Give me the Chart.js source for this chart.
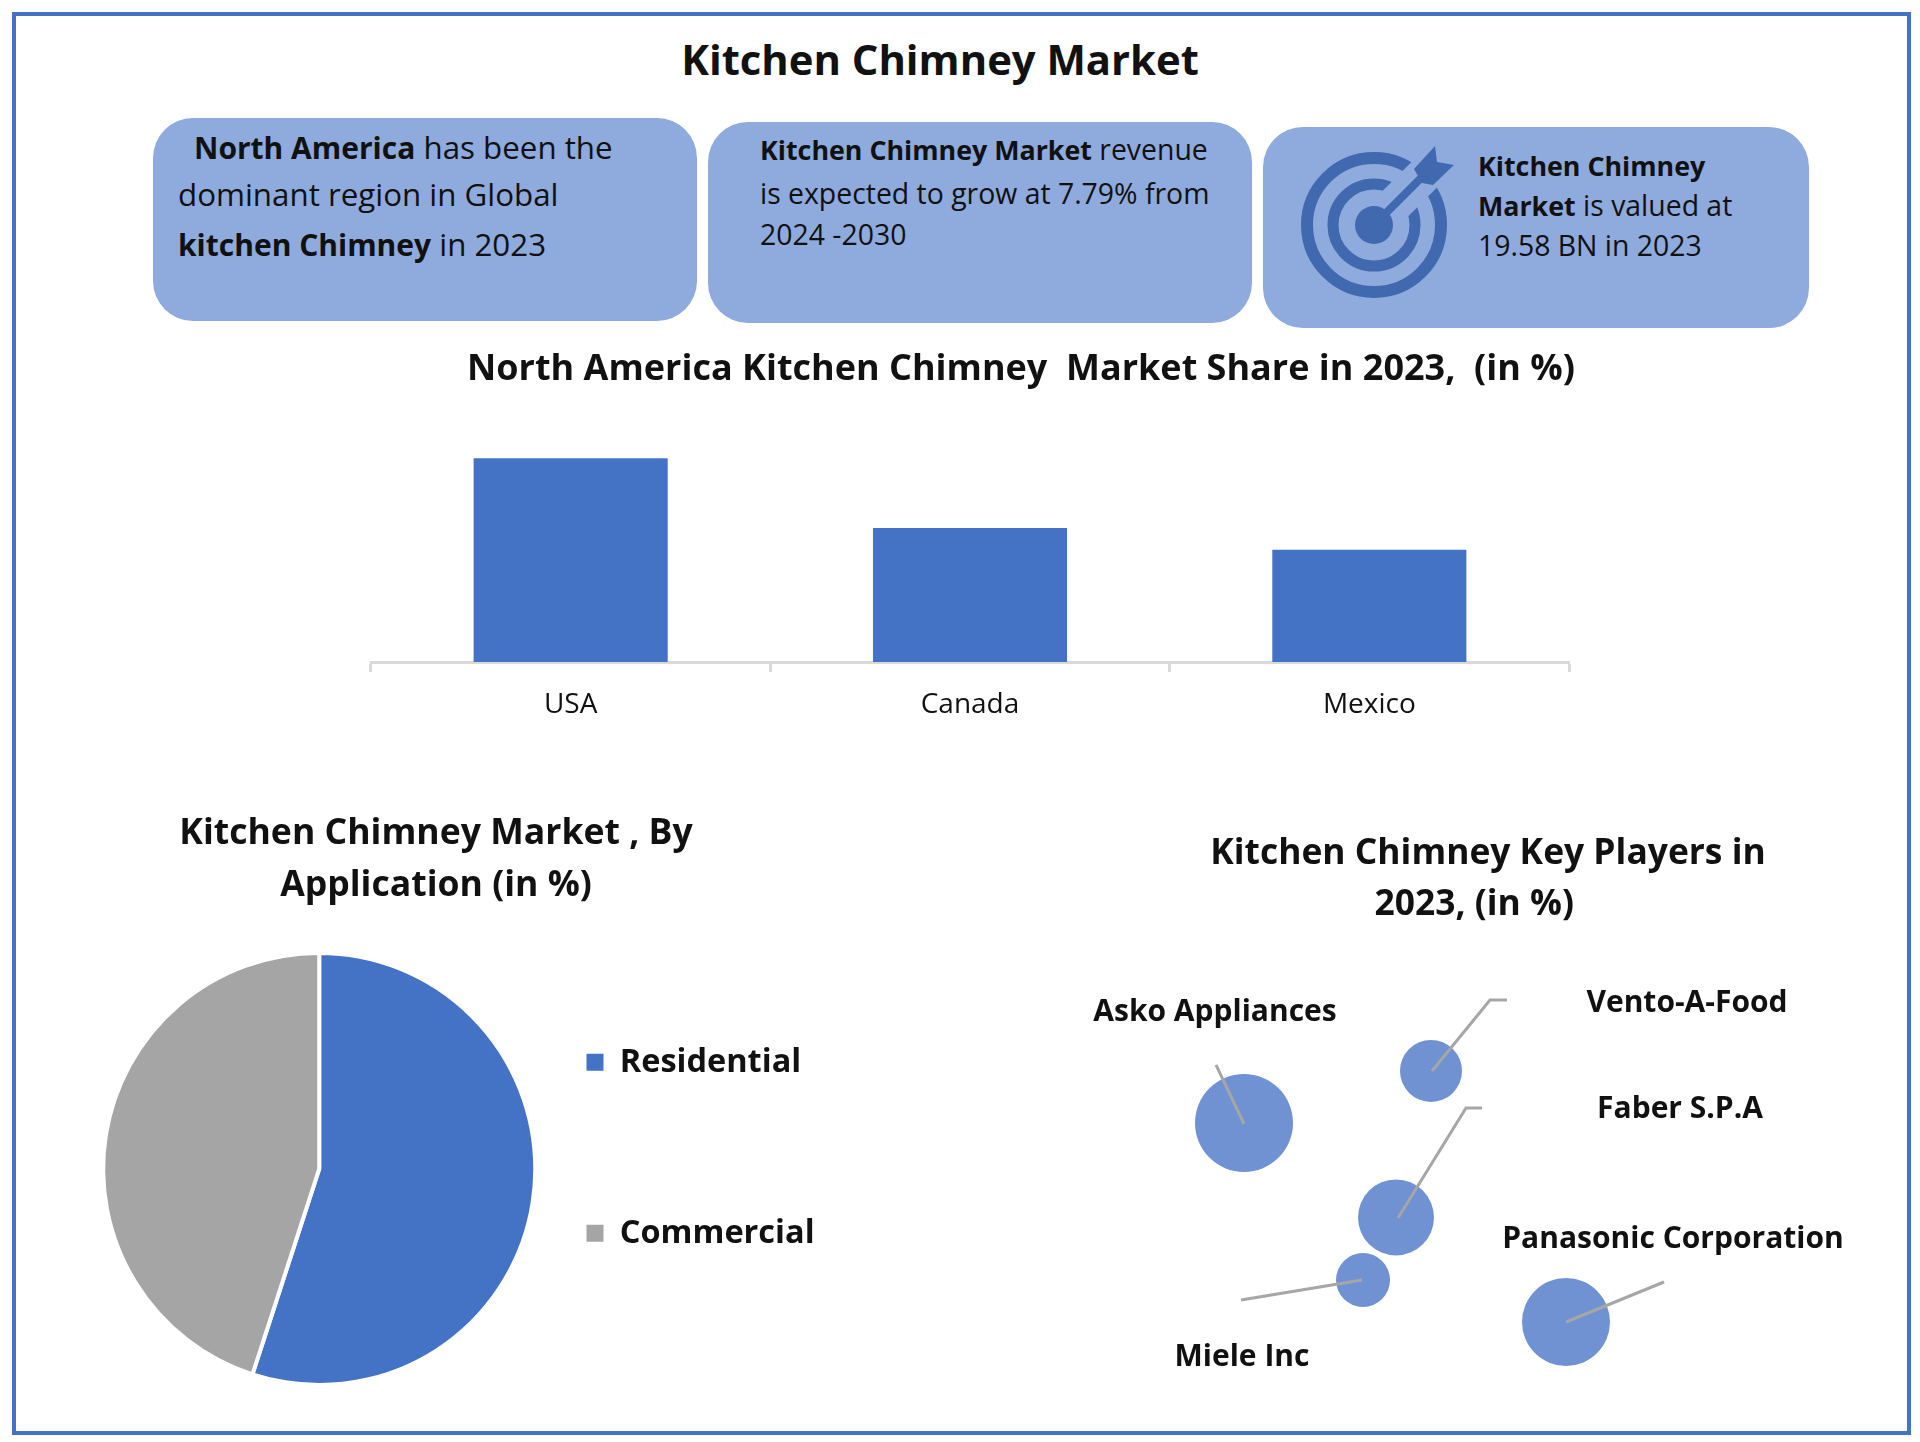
<!DOCTYPE html>
<html>
<head>
<meta charset="utf-8">
<script src="https://cdn.jsdelivr.net/npm/chart.js@4"></script>
<style>
html,body{margin:0;padding:0;background:#fff;}
body{position:relative;width:1920px;height:1442px;overflow:hidden;font-family:"Open Sans",sans-serif;color:#111;}
#frame{position:absolute;left:12px;top:12px;width:1899px;height:1423px;box-sizing:border-box;border:4px solid #4472C4;}
.box{position:absolute;background:#8FAADC;border-radius:40px;}
.ln{position:absolute;white-space:nowrap;line-height:1;transform:translateY(-50%);}
canvas{position:absolute;}
#main{left:0;width:1880px;text-align:center;top:59px;font-size:41.8px;font-weight:700;}
b{font-weight:700;}
.t1{font-size:31.3px}.t1 b{font-size:30px}
.t2{font-size:28.4px}.t2 b{font-size:26.8px}
</style>
</head>
<body>
<div id="frame"></div>
<div class="ln" id="main">Kitchen Chimney Market</div>

<div class="box" style="left:153px;top:118px;width:544px;height:203px"></div>
<div class="box" style="left:708px;top:122px;width:544px;height:201px"></div>
<div class="box" style="left:1263px;top:127px;width:546px;height:201px"></div>

<div class="ln t1" style="left:194px;top:148px"><b>North America</b> has been the</div>
<div class="ln t1" style="left:178px;top:195px">dominant region in Global</div>
<div class="ln t1" style="left:178px;top:245px"><b>kitchen Chimney</b> in 2023</div>

<div class="ln t2" style="left:760px;top:149px"><b>Kitchen Chimney Market</b> revenue</div>
<div class="ln t2" style="left:760px;top:193px">is expected to grow at 7.79% from</div>
<div class="ln t2" style="left:760px;top:234px">2024 -2030</div>

<div class="ln t2" style="left:1478px;top:165px"><b>Kitchen Chimney</b></div>
<div class="ln t2" style="left:1478px;top:205px"><b>Market</b> is valued at</div>
<div class="ln t2" style="left:1478px;top:245px">19.58 BN in 2023</div>

<svg style="position:absolute;left:1290px;top:140px" width="180" height="170" viewBox="1290 140 180 170">
  <g fill="none" stroke="#4169B0">
    <circle cx="1374" cy="225" r="67" stroke-width="12"/>
    <circle cx="1374" cy="225" r="41" stroke-width="11"/>
  </g>
  <line x1="1392" y1="207" x2="1450" y2="149" stroke="#8FAADC" stroke-width="36"/>
  <circle cx="1374" cy="225" r="19" fill="#4169B0"/>
  <line x1="1374" y1="225" x2="1424" y2="175" stroke="#4169B0" stroke-width="8"/>
  <polygon points="1414,169 1435,146 1437,162 1454,165 1433,185 1422,183" fill="#4169B0"/>
</svg>

<canvas id="barChart" width="1260" height="400" style="left:340px;top:340px"></canvas>
<canvas id="pieChart" width="951" height="600" style="left:0;top:800px"></canvas>
<canvas id="bubbleChart" width="800" height="600" style="left:1050px;top:800px"></canvas>

<script>
const barCategories = ["USA", "Canada", "Mexico"];
const barValues = [45, 29.6, 24.8];

const pieCategories = ["Residential", "Commercial"];
const pieValues = [55, 45];

const playerNames = ["Asko Appliances", "Vento-A-Food", "Faber S.P.A", "Miele Inc", "Panasonic Corporation"];
const playerX = [1.94, 3.81, 3.46, 3.13, 5.16];
const playerY = [2.77, 3.29, 1.825, 1.20, 0.78];
const playerSize = [49, 31, 38, 27, 44];
const leaderLines = [
  [[1.94, 2.76], [1.66, 3.35]],
  [[3.82, 3.29], [4.40, 4.00], [4.57, 4.00]],
  [[3.48, 1.82], [4.16, 2.92], [4.32, 2.92]],
  [[3.12, 1.20], [1.91, 1.00]],
  [[5.16, 0.78], [6.14, 1.18]]
];
const labelX = [1.65, 6.37, 6.30, 1.92, 6.23];
const labelY = [3.88, 3.965, 2.905, 0.425, 1.61];

const FONT = '"Open Sans", sans-serif';
const INK = '#111111';
Chart.defaults.animation = false;
Chart.defaults.responsive = false;
Chart.defaults.devicePixelRatio = 1;
Chart.defaults.font.family = FONT;
Chart.defaults.color = INK;

// moves the title and legend boxes after the library has laid them out
const placeBoxes = {
  id: 'placeBoxes',
  afterLayout(chart, args, o) {
    if (o.titleCenter != null) {
      const t = chart.titleBlock, w = t.right - t.left;
      t.left = o.titleCenter - w / 2;
      t.right = t.left + w;
    }
    if (o.legendX != null) {
      const l = chart.legend, pad = l.options.labels.padding;
      const w = l.right - l.left, h = l.bottom - l.top;
      l.left = o.legendX - pad; l.right = l.left + w;
      l.top = o.legendY - pad; l.bottom = l.top + h;
    }
  }
};

new Chart(document.getElementById('barChart'), {
  type: 'bar',
  data: {
    labels: barCategories,
    datasets: [{ data: barValues, backgroundColor: '#4472C4', barPercentage: 0.486, categoryPercentage: 1 }]
  },
  options: {
    layout: { padding: { left: 31, right: 31, top: 0, bottom: 0 } },
    plugins: {
      legend: { display: false },
      tooltip: { enabled: false },
      title: {
        display: true,
        text: 'North America Kitchen Chimney  Market Share in 2023,  (in %)',
        font: { size: 36, weight: '700', lineHeight: 1.111 },
        color: INK,
        padding: { top: 9.7, bottom: 1 }
      },
      placeBoxes: { titleCenter: 681 }
    },
    scales: {
      y: { display: false, min: 0, max: 59.9 },
      x: {
        afterFit(s) { s.height = 78; },
        border: { color: '#D9D9D9', width: 3 },
        grid: { offset: true, drawOnChartArea: false, drawTicks: true, tickLength: 10, tickColor: '#D9D9D9', tickWidth: 3 },
        ticks: { color: INK, font: { size: 28 }, padding: 16, maxRotation: 0 }
      }
    }
  },
  plugins: [placeBoxes]
});

new Chart(document.getElementById('pieChart'), {
  type: 'pie',
  data: {
    labels: pieCategories,
    datasets: [{ data: pieValues, backgroundColor: ['#4472C4', '#A5A5A5'], borderColor: '#FFFFFF', borderWidth: 4 }]
  },
  options: {
    layout: { padding: { left: 64, top: 0, bottom: 13, right: 0 } },
    plugins: {
      tooltip: { enabled: false },
      title: {
        display: true,
        text: ['Kitchen Chimney Market , By', 'Application (in %)'],
        font: { size: 35.6, weight: '700', lineHeight: 1.46 },
        color: INK,
        padding: { top: 7.5, bottom: 39.5 }
      },
      legend: {
        position: 'right',
        align: 'start',
        labels: {
          boxWidth: 17, boxHeight: 17, padding: 138.5, color: INK,
          font: { size: 32.5, weight: '700' },
          generateLabels(c) {
            return Chart.overrides.pie.plugins.legend.labels.generateLabels(c).map(i => ({ ...i, lineWidth: 0 }));
          }
        }
      },
      placeBoxes: { titleCenter: 436, legendX: 586.5, legendY: 246 }
    }
  },
  plugins: [placeBoxes]
});

const bubbleLabels = {
  id: 'bubbleLabels',
  afterDatasetsDraw(chart) {
    const { ctx, scales: { x, y } } = chart;
    ctx.save();
    ctx.font = '700 30px ' + FONT;
    ctx.fillStyle = INK;
    ctx.textAlign = 'center';
    ctx.textBaseline = 'middle';
    playerNames.forEach((n, i) => ctx.fillText(n, x.getPixelForValue(labelX[i]), y.getPixelForValue(labelY[i])));
    ctx.restore();
  }
};

new Chart(document.getElementById('bubbleChart'), {
  type: 'bubble',
  data: {
    datasets: [
      ...leaderLines.map(pts => ({
        type: 'line',
        data: pts.map(p => ({ x: p[0], y: p[1] })),
        borderColor: '#A6A6A6', borderWidth: 3, pointRadius: 0, fill: false, tension: 0, order: 0
      })),
      {
        data: playerNames.map((n, i) => ({ x: playerX[i], y: playerY[i], r: playerSize[i] })),
        backgroundColor: '#7092D2', borderWidth: 0, order: 1
      }
    ]
  },
  options: {
    layout: { autoPadding: false },
    plugins: {
      legend: { display: false },
      tooltip: { enabled: false },
      title: {
        display: true,
        text: ['Kitchen Chimney Key Players in', '2023, (in %)   '],
        font: { size: 35.4, weight: '700', lineHeight: 1.44 },
        color: INK,
        padding: { top: 28, bottom: 30 }
      },
      placeBoxes: { titleCenter: 438 }
    },
    scales: {
      x: { display: false, min: 0, max: 8 },
      y: { display: false, min: 0, max: 4.4 }
    }
  },
  plugins: [bubbleLabels, placeBoxes]
});
</script>
</body>
</html>
